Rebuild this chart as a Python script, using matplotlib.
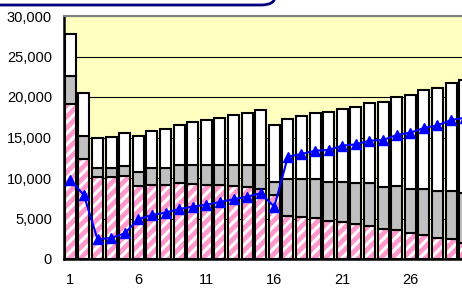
import matplotlib
matplotlib.use("Agg")
import matplotlib.pyplot as plt
from matplotlib.patches import FancyBboxPatch
import numpy as np

plt.rcParams['font.family'] = ['Liberation Sans', 'DejaVu Sans']
plt.rcParams['hatch.linewidth'] = 2.2

categories = list(range(1, 31))
pink_vals = [19100, 12300, 10160, 10080, 10290, 9010, 9180, 9140, 9340, 9260,
             9180, 9140, 9010, 8850, 8680, 7860, 5310, 5190, 5060, 4730,
             4610, 4280, 4070, 3740, 3580, 3170, 2960, 2590, 2430, 1940]
gray_tops = [22600, 15200, 11200, 11200, 11520, 10780, 11200, 11200, 11650, 11650,
             11600, 11560, 11650, 11650, 11650, 9510, 9840, 9840, 9840, 9510,
             9510, 9340, 9340, 8930, 9050, 8680, 8680, 8430, 8430, 8110]
totals = [27750, 20450, 14980, 15100, 15560, 15140, 15760, 16010, 16540, 16870,
          17100, 17450, 17740, 18020, 18350, 16580, 17280, 17610, 18060, 18100,
          18560, 18770, 19220, 19420, 19960, 20210, 20860, 21110, 21770, 22150]
line_vals = [9750, 7900, 2430, 2600, 3170, 4900, 5430, 5720, 6170, 6460,
             6700, 7040, 7370, 7700, 8110, 6460, 12630, 12960, 13370, 13460,
             13990, 14160, 14610, 14690, 15310, 15600, 16170, 16500, 17160, 17440]
y_ticks = [0, 5000, 10000, 15000, 20000, 25000, 30000]
x_ticks = [1, 6, 11, 16, 21, 26]

x = np.array(categories)
pink = np.array(pink_vals)
gray = np.array(gray_tops) - pink
white = np.array(totals) - np.array(gray_tops)

fig = plt.figure(figsize=(4.62, 2.91), dpi=100)
ax = fig.add_axes([63.5/462, 32/291, 408/462, 243/291])
ax.set_facecolor('#FFFFC0')

w = 0.82
lw = 1.5
ax.bar(x, pink, width=w, color='#FF99CC', edgecolor='white', hatch='///', linewidth=0, zorder=2)
ax.bar(x, pink, width=w, fill=False, edgecolor='black', linewidth=lw, zorder=3)
ax.bar(x, gray, bottom=pink, width=w, color='#C0C0C0', edgecolor='black', linewidth=lw, zorder=3)
ax.bar(x, white, bottom=np.array(gray_tops), width=w, color='white', edgecolor='black', linewidth=lw, zorder=3)

ax.plot(x, line_vals, color='#0000FF', linewidth=1.5, marker='^', markersize=7,
        markerfacecolor='#0000FF', markeredgecolor='#0000FF', zorder=5)

ax.set_xlim(0.5, 30.5)
ax.set_ylim(0, 30000)
ax.set_yticks(y_ticks)
ax.set_yticklabels([f"{v:,}" for v in y_ticks], fontsize=10.5)
ax.set_xticks(x_ticks)
ax.set_xticklabels([str(v) for v in x_ticks], fontsize=10.5)
ax.tick_params(axis='x', length=0, pad=10)
ax.tick_params(axis='y', length=0, pad=8.3)
ax.yaxis.grid(True, color='black', linewidth=0.8, zorder=1)
ax.set_axisbelow(True)

for s in ['left', 'bottom']:
    ax.spines[s].set_color('black')
    ax.spines[s].set_linewidth(1.8)
ax.spines['top'].set_color('#808080')
ax.spines['top'].set_linewidth(1.5)
ax.spines['right'].set_visible(False)

box = FancyBboxPatch((-0.05, 1 - 5/291), 275/462 + 0.05, 0.2,
                     boxstyle="round,pad=0,rounding_size=0.03",
                     transform=fig.transFigure, facecolor='white',
                     edgecolor='#000080', linewidth=2, clip_on=False)
fig.patches.append(box)

fig.savefig('out.png', dpi=100)
